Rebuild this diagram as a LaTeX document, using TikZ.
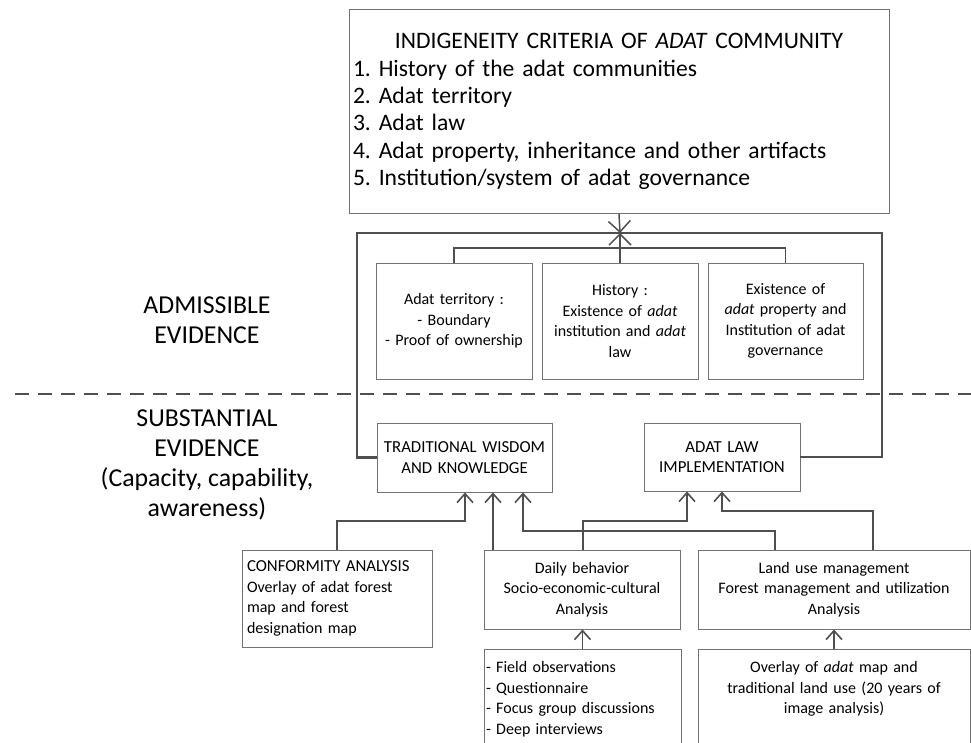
\documentclass[tikz,border=0pt]{standalone}
\usepackage{fontspec}
\setmainfont{Carlito}
\usetikzlibrary{arrows.meta}

\definecolor{boxgray}{HTML}{737373}
\definecolor{linegray}{HTML}{4F4F4F}

\newcommand\fsTitle{\fontsize{23.6}{27.4}\selectfont}
\newcommand\fsSide{\fontsize{25.8}{30}\selectfont}
\newcommand\fsBody{\fontsize{16}{20.5}\selectfont}
\newcommand\fsCaps{\fontsize{16.8}{20.5}\selectfont}

\begin{document}
\frenchspacing
\begin{tikzpicture}[x=1pt,y=-1pt,
  box/.style={draw=boxgray, line width=0.9pt, rectangle, inner ysep=0pt,
    inner xsep=3pt, align=center, font=\fsBody},
  conn/.style={draw=linegray, line width=1.6pt},
  arr/.style={conn, -{Straight Barb[length=9pt,width=16pt]}},
  bigarr/.style={draw=linegray, line width=1.5pt, -{Straight Barb[length=11pt,width=22pt]}},
  frame/.style={draw=linegray, line width=2.6pt, line join=miter},
  side/.style={align=center, font=\fsSide, inner sep=0pt},
  divider/.style={draw=linegray, line width=1.8pt, dash pattern=on 14pt off 9pt}
]
\useasboundingbox (0,0) rectangle (971,742);
\clip (0,0) rectangle (971,742);

% criteria box
\node[box, align=left, font=\fsTitle, inner xsep=4pt, text width=532pt,
      minimum width=540pt, minimum height=204pt] (crit) at (619,111.5)
  {\makebox[532pt][c]{INDIGENEITY CRITERIA OF \textit{ADAT} COMMUNITY}\\
   1. History of the adat communities\\
   2. Adat territory\\
   3. Adat law\\
   4. Adat property, inheritance and other artifacts\\
   5. Institution/system of adat governance};

% admissible evidence boxes
\node[box, text width=150pt, minimum width=156pt, minimum height=116pt] (terr) at (454,321)
  {Adat territory :\\ - Boundary\\ - Proof of ownership};
\node[box, text width=150pt, minimum width=156pt, minimum height=116pt] (hist) at (620,321)
  {History :\\ Existence of \textit{adat}\\ institution and \textit{adat}\\ law};
\node[box, text width=149pt, minimum width=155pt, minimum height=116pt] (prop) at (785.5,321)
  {Existence of\\ \textit{adat} property and\\ Institution of adat\\ governance};

% substantial evidence boxes
\node[box, font=\fsCaps, text width=169pt, minimum width=175pt, minimum height=69pt] (tw) at (464.5,457.5)
  {TRADITIONAL WISDOM\\ AND KNOWLEDGE};
\node[box, font=\fsCaps, text width=150pt, minimum width=156pt, minimum height=68pt] (law) at (722,457)
  {ADAT LAW\\ IMPLEMENTATION};

% analysis boxes
\node[box, align=left, inner xsep=5pt, text width=180pt, minimum width=190pt,
      minimum height=97pt] (conf) at (337,598.5)
  {{\fsCaps CONFORMITY ANALYSIS}\\ Overlay of adat forest\\ map and forest\\ designation map};
\node[box, text width=190pt, minimum width=196pt, minimum height=79pt] (daily) at (582,589.5)
  {Daily behavior\\ Socio-economic-cultural\\ Analysis};
\node[box, text width=266pt, minimum width=272pt, minimum height=79pt] (land) at (834,589.5)
  {Land use management\\ Forest management and utilization\\ Analysis};

% method boxes (continue below the lower edge)
\node[box, anchor=north, align=left, inner xsep=2pt, inner ysep=12pt, text width=193pt]
  (field) at (582.5,649)
  {- Field observations\\ - Questionnaire\\ - Focus group discussions\\ - Deep interviews\\ \mbox{}};
\node[box, anchor=north, inner ysep=12pt, text width=266pt] (over) at (834,649)
  {Overlay of \textit{adat} map and\\ traditional land use (20 years of\\ image analysis)\\ \mbox{}};

% side labels
\node[side] (adm) at (207,320) {ADMISSIBLE\\ EVIDENCE};
\node[side] (sub) at (207,465) {SUBSTANTIAL\\ EVIDENCE\\ (Capacity, capability,\\ awareness)};

% dividing line between the two kinds of evidence
\coordinate (dl) at (15,394);
\coordinate (dr) at (971,394);
\draw[divider] (dl) -- (dr);

% bracket joining both evidence groups to the criteria
\coordinate (fl) at (357,233);
\coordinate (fr) at (882,233);
\coordinate (cross) at (620,233);
\draw[frame] (tw.west) -| (fl) -- (fr) |- (law.east);

% distribution line over the admissible boxes
\coordinate (bus) at (620,248);
\draw[conn] (terr.north) |- (bus) -| (prop.north);
\draw[bigarr] (hist.north) -- (cross);
\draw[bigarr] (crit.south) -- (cross);

% into traditional wisdom and knowledge
\coordinate (k1) at (465,521);
\draw[arr] (conf.north) |- (k1) -- (k1 |- tw.south);
\coordinate (k2) at (493,550);
\draw[arr] (k2) -- (k2 |- tw.south);
\coordinate (k3a) at (775,531);
\coordinate (k3b) at (523,531);
\draw[arr] (k3a |- land.north) -- (k3a) -- (k3b) -- (k3b |- tw.south);

% into adat law implementation
\coordinate (k4a) at (583,521);
\coordinate (k4b) at (687,521);
\draw[arr] (k4a |- daily.north) -- (k4a) -- (k4b) -- (k4b |- law.south);
\coordinate (k5a) at (873,511);
\coordinate (k5b) at (722,511);
\draw[arr] (k5a |- land.north) -- (k5a) -- (k5b) -- (k5b |- law.south);

% methods into analyses
\draw[arr] (field.north) -- (field.north |- daily.south);
\draw[arr] (over.north) -- (over.north |- land.south);
\end{tikzpicture}
\end{document}
